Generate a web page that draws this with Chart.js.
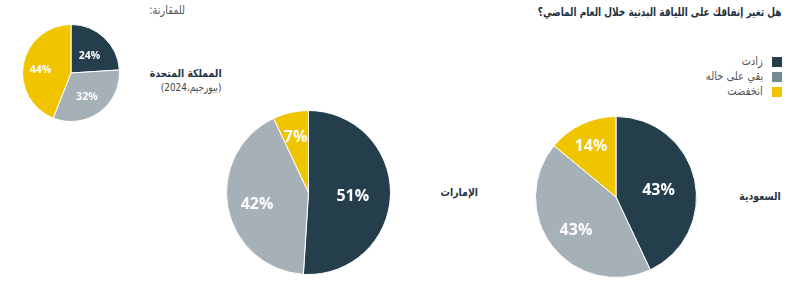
<!DOCTYPE html>
<html lang="ar">
<head>
<meta charset="utf-8">
<script src="https://cdn.jsdelivr.net/npm/chart.js@4/dist/chart.umd.min.js"></script>
<style>
  body { margin: 0; width: 801px; height: 289px; background: #fff; position: relative; overflow: hidden;
         font-family: "DejaVu Sans", "Noto Sans", sans-serif; }
  canvas { position: absolute; }
  .txt { position: absolute; direction: rtl; white-space: nowrap; transform: scaleX(0.85); transform-origin: right center; }
  .bold { font-weight: bold; color: #1f3340; font-size: 11px; }
  #legend { transform: none; }
  #legend div { position: relative; height: 15px; font-size: 12px; color: #555; }
  #legend span.box { position: absolute; right: 0; top: 1px; width: 10px; height: 10px; }
  #legend span.lbl { position: absolute; right: 19px; top: -2px; transform: scaleX(0.83); transform-origin: right center; }
</style>
</head>
<body>
<div class="txt bold" style="right:20px; top:5px; font-size:11.5px; transform:scaleX(0.78);">هل تغير إنفاقك على اللياقة البدنية خلال العام الماضي؟</div>
<div id="legend" class="txt" style="left:700px; width:82px; top:56px;"></div>

<div class="txt" style="right:616px; top:3px; font-size:11.5px; color:#555;">للمقارنة:</div>
<div class="txt bold" style="right:579px; top:67px;">المملكة المتحدة</div>
<div class="txt" style="right:579px; top:81px; font-size:10.5px; color:#444;">(بيورجيم،2024)</div>
<div class="txt bold" style="right:323px; top:186px;">الإمارات</div>
<div class="txt bold" style="right:20px; top:190px;">السعودية</div>

<canvas id="saudiChart" width="162" height="162" style="left:535px; top:116px;"></canvas>
<canvas id="uaeChart" width="165" height="165" style="left:226px; top:110px;"></canvas>
<canvas id="ukChart" width="98" height="98" style="left:22px; top:24px;"></canvas>

<script>
// categories and values
const categories = ['زادت', 'بقي على حاله', 'انخفضت'];
const saudiValues = [43, 43, 14];
const uaeValues = [51, 42, 7];
const ukValues = [24, 32, 44];

const sliceColors = ['#253e4c', '#a6b1b7', '#f0c500'];
const legendColors = ['#253e4c', '#738b95', '#f0c500'];

// build the html legend
const legend = document.getElementById('legend');
categories.forEach((name, i) => {
    const row = document.createElement('div');
    row.innerHTML = `<span class="box" style="background:${legendColors[i]}"></span><span class="lbl">${name}</span>`;
    legend.appendChild(row);
});

// draws the percent text on each slice
const percentLabels = {
    id: 'percentLabels',
    afterDatasetsDraw(chart, args, opts) {
        const ctx = chart.ctx;
        const meta = chart.getDatasetMeta(0);
        const values = chart.data.datasets[0].data;
        ctx.save();
        ctx.fillStyle = '#fff';
        ctx.font = `bold ${opts.size}px "Open Sans", Inter, sans-serif`;
        ctx.textAlign = 'center';
        ctx.textBaseline = 'middle';
        meta.data.forEach((arc, i) => {
            const p = arc.getProps(['x', 'y', 'startAngle', 'endAngle', 'outerRadius']);
            const mid = (p.startAngle + p.endAngle) / 2;
            // labels sit a bit further out on the left side and on small slices
            const f = 0.59 - 0.05 * Math.cos(mid) + (values[i] < 15 ? 0.12 : 0);
            const x = p.x + Math.cos(mid) * p.outerRadius * f;
            const y = p.y + Math.sin(mid) * p.outerRadius * f;
            ctx.fillText(values[i] + '%', x, y + 2.5);
        });
        ctx.restore();
    }
};

function makePie(id, values, size) {
    return new Chart(document.getElementById(id).getContext('2d'), {
        type: 'pie',
        data: {
            labels: categories,
            datasets: [{
                data: values,
                backgroundColor: sliceColors,
                borderColor: '#fff',
                borderWidth: 1,
                hoverOffset: 0
            }]
        },
        options: {
            responsive: false,
            animation: false,
            devicePixelRatio: 1,
            layout: { padding: 0 },
            plugins: {
                legend: { display: false },
                tooltip: { enabled: false },
                percentLabels: { size: size }
            }
        },
        plugins: [percentLabels]
    });
}

makePie('saudiChart', saudiValues, 16);
makePie('uaeChart', uaeValues, 16);
makePie('ukChart', ukValues, 10.5);
</script>
</body>
</html>
